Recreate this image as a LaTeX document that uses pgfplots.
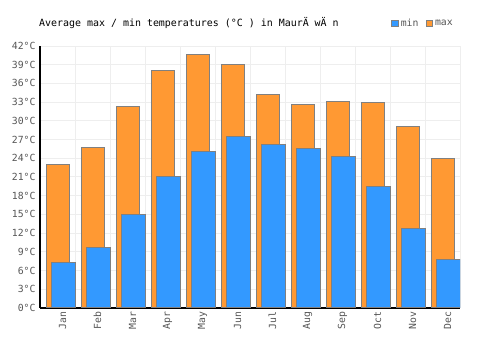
\documentclass[border=0pt]{standalone}
\usepackage{pgfplots}
\pgfplotsset{compat=1.18}
\usepackage{fontspec}
\setmainfont{DejaVu Sans Mono}
\definecolor{maxc}{HTML}{FF9933}
\definecolor{minc}{HTML}{3399FF}
\definecolor{edgec}{HTML}{808080}
\definecolor{gridc}{HTML}{EEEEEE}
\definecolor{labc}{HTML}{555555}
\begin{document}
\begin{tikzpicture}[x=1pt,y=1pt]
\useasboundingbox (0,0) rectangle (500,350);
\begin{axis}[
  at={(40pt,42pt)}, anchor=south west,
  scale only axis, width=420pt, height=262pt,
  xmin=-0.5, xmax=11.5, ymin=0, ymax=42,
  xtick={0,...,11},
  xticklabels={Jan,Feb,Mar,Apr,May,Jun,Jul,Aug,Sep,Oct,Nov,Dec},
  minor xtick={-0.5,0.5,...,11.5},
  xminorgrids=true, xmajorgrids=false, ymajorgrids=true,
  ytick={0,3,...,42},
  yticklabels={0°C,3°C,6°C,9°C,12°C,15°C,18°C,21°C,24°C,27°C,30°C,33°C,36°C,39°C,42°C},
  grid style={draw=gridc, line width=1pt},
  minor grid style={draw=gridc, line width=1pt},
  axis x line*=bottom, axis y line*=left,
  axis line style={black, line width=1.2pt, -},
  major tick length=0pt, minor tick length=0pt,
  tick label style={text=labc, font=\fontsize{9.8}{10}\selectfont},
  xticklabel style={rotate=90, anchor=east, yshift=-5pt},
  yticklabel style={xshift=-1pt},
  legend style={at={(0.836,1.084)}, anchor=west, draw=none, fill=none,
    font=\fontsize{9.8}{10}\selectfont, text=labc, inner sep=0pt,
    /tikz/every even column/.append style={column sep=5pt}},
  legend columns=-1,
  legend image code/.code={\draw[#1] (0pt,-3pt) rectangle (6.5pt,3.5pt);},
]
\addlegendimage{fill=minc, draw=edgec, line width=1pt}
\addlegendentry{min}
\addlegendimage{fill=maxc, draw=edgec, line width=1pt}
\addlegendentry{max}
\addplot[ybar, forget plot, bar width=0.67, bar shift=0.014, fill=maxc, draw=edgec, line width=1pt]
  coordinates {(0,23.0) (1,25.8) (2,32.3) (3,38.1) (4,40.7) (5,39.1) (6,34.3) (7,32.7) (8,33.1) (9,33.0) (10,29.1) (11,24.0)};
\addplot[ybar, forget plot, bar width=0.68, bar shift=0.171, fill=minc, draw=edgec, line width=1pt]
  coordinates {(0,7.3) (1,9.7) (2,15.0) (3,21.0) (4,25.1) (5,27.5) (6,26.2) (7,25.6) (8,24.3) (9,19.4) (10,12.8) (11,7.8)};
\end{axis}
\node[anchor=west, inner sep=0pt, font=\fontsize{9.95}{10}\selectfont] at (39,327) {Average max / min temperatures (°C ) in MaurÄ wÄ n};
\end{tikzpicture}
\end{document}
